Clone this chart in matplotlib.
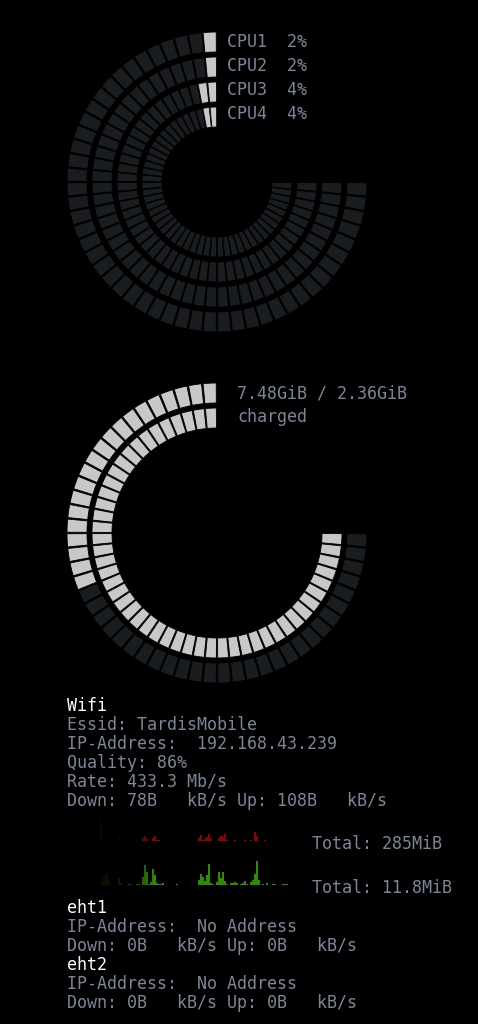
import numpy as np
import matplotlib
matplotlib.use("Agg")
import matplotlib.pyplot as plt
from matplotlib.patches import Wedge

# ----------------------------
# data
# ----------------------------
cpu_labels = ["CPU1", "CPU2", "CPU3", "CPU4"]
cpu_perc = [2, 2, 4, 4]

mem_text = "7.48GiB / 2.36GiB"
bat_text = "charged"
mem_perc = 41
bat_perc = 100

wifi_title = "Wifi"
wifi_lines = [
    "Essid: TardisMobile",
    "IP-Address:  192.168.43.239",
    "Quality: 86%",
    "Rate: 433.3 Mb/s",
    "Down: 78B   kB/s Up: 108B   kB/s",
]
up_total = "Total: 285MiB"
down_total = "Total: 11.8MiB"

# network history, one sample every 2 px (oldest left)
up_hist = [22, 2, 3, 2, 0, 0, 0, 0, 0, 3, 0, 0, 0, 0, 0, 0, 0, 0, 0, 0,
           0, 3, 5, 2, 0, 0, 3, 5, 1, 1, 0, 0, 0, 0, 0, 0, 0, 0, 0, 0,
           0, 0, 0, 0, 0, 0, 0, 0, 0, 3, 6, 1, 2, 4, 7, 2, 0, 0, 0, 3,
           5, 4, 7, 1, 0, 0, 0, 1, 0, 0, 0, 0, 1, 0, 0, 1, 0, 9, 5, 0,
           0, 0, 1, 0, 0, 0, 0, 0, 0, 0, 0, 0, 0, 0, 0]
down_hist = [3, 7, 10, 12, 6, 0, 0, 0, 0, 7, 2, 0, 0, 0, 1, 1, 0, 0, 1, 1,
             0, 8, 20, 13, 1, 3, 16, 10, 2, 1, 1, 2, 0, 0, 0, 0, 0, 0, 1, 0,
             0, 0, 0, 0, 0, 0, 0, 0, 0, 5, 11, 8, 4, 10, 21, 2, 1, 0, 3, 13,
             7, 13, 4, 1, 0, 2, 2, 3, 2, 0, 1, 2, 4, 1, 0, 3, 5, 11, 24, 5,
             0, 1, 0, 2, 0, 0, 1, 1, 0, 0, 0, 1, 1, 1, 0]

eth_names = ["eht1", "eht2"]
eth_lines = ["IP-Address:  No Address", "Down: 0B   kB/s Up: 0B   kB/s"]

# ----------------------------
# style
# ----------------------------
BG = "#000000"
RING_OFF = "#1a1d20"
RING_ON = "#c8c8c8"
TXT = "#7b8797"
HEAD = "#ffffff"
FONT = "DejaVu Sans Mono"
FS = 12
N_SEG = 48


def ring(ax, cx, cy, r_out, width, perc):
    step = 270.0 / N_SEG
    lit = int(round(perc / 100.0 * N_SEG))
    for i in range(N_SEG):
        # y axis is inverted: visual counter-clockwise from 12 o'clock
        t2 = 270 - i * step - 0.3
        t1 = 270 - (i + 1) * step + 0.3
        col = RING_ON if i < lit else RING_OFF
        ax.add_patch(Wedge((cx, cy), r_out, t1, t2, width=width,
                           facecolor=col, edgecolor=BG, linewidth=0.6))


def graph(ax, x0, base, hist, color):
    rgb = np.array(matplotlib.colors.to_rgb(color))
    xs = x0 + 1 + 2 * np.arange(len(hist))
    cols = []
    for x in xs:
        # older samples fade out towards the left
        f = np.clip((x - x0) / 55.0, 0.0, 1.0) ** 1.5
        f = max(f, 0.12)
        cols.append(tuple(rgb * f))
    h = np.array(hist, dtype=float)
    ax.bar(xs, h, width=2, bottom=base - h, color=cols, linewidth=0)


fig = plt.figure(figsize=(4.78, 10.24), dpi=100, facecolor=BG)
ax = fig.add_axes([0, 0, 1, 1])
ax.set_facecolor(BG)
ax.set_xlim(0, 478)
ax.set_ylim(1024, 0)
ax.axis("off")

# ----------------------------
# CPU rings
# ----------------------------
for k, p in enumerate(cpu_perc):
    ring(ax, 217, 182, 150 - 25 * k, 20, p)
    ax.text(227, 47 + 24 * k, f"{cpu_labels[k]}  {p}%", color=TXT,
            fontsize=FS, family=FONT, va="baseline")

# ----------------------------
# memory / battery rings
# ----------------------------
ring(ax, 217, 533, 150, 20, mem_perc)
ring(ax, 217, 533, 125, 20, bat_perc)
ax.text(237, 398, mem_text, color=TXT, fontsize=FS, family=FONT, va="baseline")
ax.text(237, 422, bat_text, color=TXT, fontsize=FS, family=FONT, va="baseline")

# ----------------------------
# wifi
# ----------------------------
ax.text(67, 711, wifi_title, color=HEAD, fontsize=FS, family=FONT, va="baseline")
for j, line in enumerate(wifi_lines):
    ax.text(67, 730 + 19 * j, line, color=TXT, fontsize=FS, family=FONT,
            va="baseline")

graph(ax, 100, 841, up_hist, "#900000")
graph(ax, 100, 885, down_hist, "#2e8c00")
ax.text(312, 849, up_total, color=TXT, fontsize=FS, family=FONT, va="baseline")
ax.text(312, 893, down_total, color=TXT, fontsize=FS, family=FONT, va="baseline")

# ----------------------------
# ethernet
# ----------------------------
for k, name in enumerate(eth_names):
    y0 = 913 + 57 * k
    ax.text(67, y0, name, color=HEAD, fontsize=FS, family=FONT, va="baseline")
    for j, line in enumerate(eth_lines):
        ax.text(67, y0 + 19 * (j + 1), line, color=TXT, fontsize=FS,
                family=FONT, va="baseline")

fig.savefig("out.png", dpi=100, facecolor=BG)
